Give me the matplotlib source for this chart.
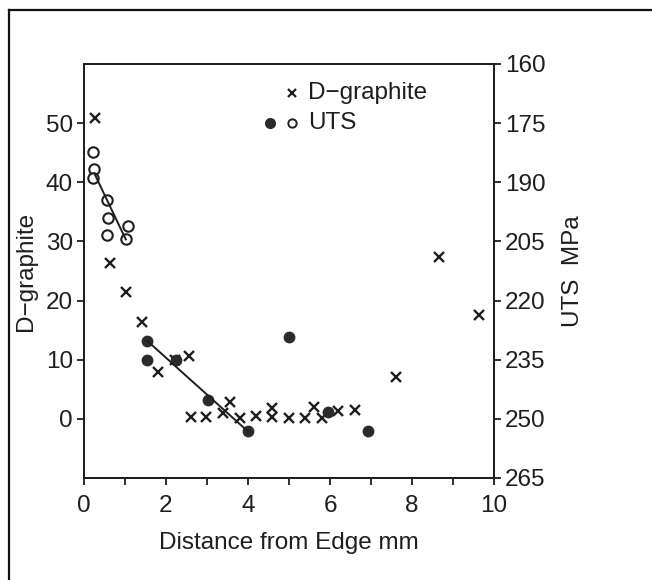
import numpy as np
import matplotlib
matplotlib.use("Agg")
import matplotlib.pyplot as plt
from matplotlib.lines import Line2D

plt.rcParams['font.family'] = ['Liberation Sans', 'DejaVu Sans']
plt.rcParams['font.size'] = 17.5

# ---- data ----
dg_x = [0.27, 0.63, 1.02, 1.42, 1.81, 2.21, 2.55, 2.60, 2.98, 3.39, 3.56, 3.80,
        4.20, 4.58, 4.58, 4.99, 5.38, 5.60, 5.80, 6.19, 6.61, 7.62, 8.66, 9.64]
dg_val = [50.8, 26.3, 21.4, 16.3, 8.0, 9.9, 10.6, 0.3, 0.3, 1.0, 2.9, 0.2,
          0.4, 1.8, 0.3, 0.2, 0.2, 2.0, 0.2, 1.4, 1.5, 7.1, 27.4, 17.5]

uts_open_x = [0.23, 0.25, 0.23, 0.57, 0.59, 0.57, 1.08, 1.02]
uts_open = [182.4, 186.7, 188.8, 194.5, 199.1, 203.4, 201.0, 204.5]

uts_fill_x = [1.54, 1.54, 2.25, 3.03, 4.00, 4.99, 5.96, 6.92]
uts_fill = [230.2, 235.1, 235.1, 245.2, 253.2, 229.3, 248.3, 253.2]

trend1_x = [0.25, 1.02]
trend1_uts = [187.7, 204.5]
trend2_x = [1.54, 4.00]
trend2_uts = [230.2, 253.2]

x_ticks = [0, 2, 4, 6, 8, 10]
x_minor = [1, 3, 5, 7, 9]
left_ticks = [0, 10, 20, 30, 40, 50]
right_ticks = [160, 175, 190, 205, 220, 235, 250, 265]

ink = '#1e1e1e'

fig = plt.figure(figsize=(6.52, 5.80), dpi=100)
fig.patch.set_facecolor('white')

# scan frame (top and left border)
fig.add_artist(Line2D([9/652, 1.0], [1 - 10/580, 1 - 10/580], transform=fig.transFigure,
                      color='#111111', lw=1.6))
fig.add_artist(Line2D([9/652, 9/652], [0, 1 - 10/580], transform=fig.transFigure,
                      color='#111111', lw=1.6))

ax = fig.add_axes([84/652, (580 - 478)/580, 410/652, 414/580])
ax.set_xlim(0, 10)
ax.set_ylim(-10, 60)
ax2 = ax.twinx()
ax2.set_ylim(265, 160)

for a in (ax, ax2):
    for s in a.spines.values():
        s.set_color(ink)
        s.set_linewidth(1.3)
    a.patch.set_visible(False)

ax.set_xticks(x_ticks)
ax.set_xticks(x_minor, minor=True)
ax.set_yticks(left_ticks)
ax2.set_yticks(right_ticks)
ax.tick_params(axis='x', which='both', direction='out', length=5, width=1.3, color=ink,
               labelcolor=ink, pad=7, top=False)
ax.tick_params(axis='y', which='both', direction='out', length=5, width=1.3, color=ink,
               labelcolor=ink, pad=3)
ax2.tick_params(axis='y', direction='out', length=5, width=1.3, color=ink,
                labelcolor=ink, pad=3)

ax.set_xlabel('Distance from Edge mm', color=ink, labelpad=11)
ax.set_ylabel('D\u2212graphite', color=ink, labelpad=6)
ax2.set_ylabel('UTS  MPa', color=ink, labelpad=12)

# D-graphite crosses
ax.plot(dg_x, dg_val, linestyle='none', marker='x', markersize=7, mew=1.7, color=ink)

# UTS points
ax2.plot(uts_open_x, uts_open, linestyle='none', marker='o', markersize=7.5,
         mfc='white', mec=ink, mew=1.5)
ax2.plot(uts_fill_x, uts_fill, linestyle='none', marker='o', markersize=7.5,
         mfc='#2b2b2b', mec='#2b2b2b')
ax2.plot(trend1_x, trend1_uts, color=ink, lw=1.4)
ax2.plot(trend2_x, trend2_uts, color=ink, lw=1.4)

# legend drawn manually
ax.plot([0.507], [0.929], transform=ax.transAxes, marker='x', markersize=6, mew=1.6,
        color=ink, linestyle='none', clip_on=False)
ax.text(0.546, 0.929, 'D\u2212graphite', transform=ax.transAxes, va='center', ha='left',
        color=ink)
ax.plot([0.454], [0.857], transform=ax.transAxes, marker='o', markersize=7,
        color='#2b2b2b', linestyle='none', clip_on=False)
ax.plot([0.507], [0.857], transform=ax.transAxes, marker='o', markersize=6,
        mfc='white', mec=ink, mew=1.4, linestyle='none', clip_on=False)
ax.text(0.546, 0.857, 'UTS', transform=ax.transAxes, va='center', ha='left', color=ink)

fig.savefig('out.png', dpi=100, facecolor='white')
